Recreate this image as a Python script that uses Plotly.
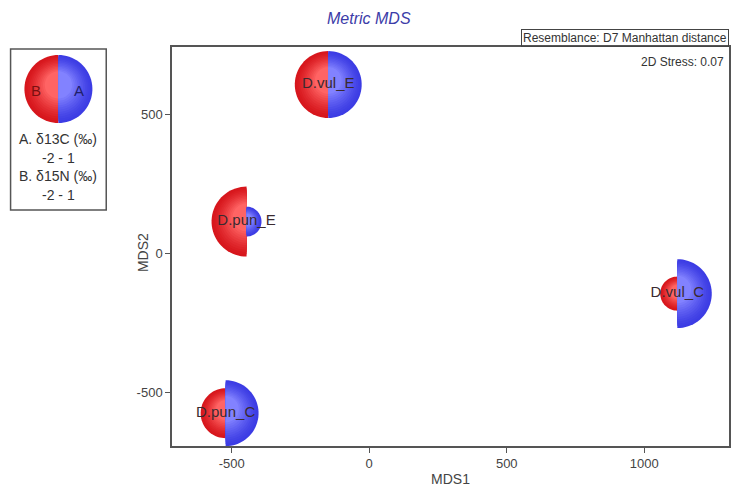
import numpy as np
import plotly.graph_objects as go

# ---- data ----
samples = ["D.vul_E", "D.pun_E", "D.vul_C", "D.pun_C"]
mds1 = [-149, -446, 1120, -522]
mds2 = [606, 113, -146, -576]
d13C = [0.85, -0.94, 0.95, 0.8]   # variable A (right, blue)
d15N = [0.85, 1.0, -0.74, 0.03]   # variable B (left, red)
var_range = [-2, 1]
x_ticks = [-500, 0, 500, 1000]
x_tick_labels = ["-500", "0", "500", "1000"]
y_ticks = [-500, 0, 500]
y_tick_labels = ["-500", "0", "500"]

# ---- layout constants ----
W, H = 733, 495
ML, MR, MT, MB = 172, 2, 47, 49
PW, PH = W - ML - MR, H - MT - MB
R_MIN, R_MAX = 4, 35

FONT = "Liberation Sans, Arial, sans-serif"
RED_EDGE, RED_CENTER = (215, 22, 28), (255, 100, 100)
BLUE_EDGE, BLUE_CENTER = (60, 60, 228), (130, 130, 255)


def radius(v):
    return R_MIN + (v - var_range[0]) / (var_range[1] - var_range[0]) * (R_MAX - R_MIN)


def half_path(r, side, dy=0.0):
    # side -1 = left half, +1 = right half; pixel coordinates relative to anchor
    t = np.linspace(-np.pi / 2, np.pi / 2, 40)
    xs = side * r * np.cos(t)
    ys = r * np.sin(t) + dy
    pts = " L ".join(f"{x:.2f},{y:.2f}" for x, y in zip(xs, ys))
    return f"M {pts} Z"


def mix(c1, c2, f):
    return "rgb(%d,%d,%d)" % tuple(int(a + (b - a) * f) for a, b in zip(c1, c2))


def half_disc_shapes(xa, ya, r, side, edge, center, ref="data"):
    shapes = []
    n = 12
    for k in range(n):
        f = k / (n - 1)
        rr = r * (1 - 0.6 * f)
        dy = r * 0.12 * f
        sh = dict(
            type="path",
            path=half_path(rr, side, dy),
            xsizemode="pixel", ysizemode="pixel",
            xanchor=xa, yanchor=ya,
            fillcolor=mix(edge, center, f ** 1.3),
            line=dict(width=0),
            layer="below",
        )
        if ref == "data":
            sh.update(xref="x", yref="y")
        else:
            sh.update(xref="paper", yref="paper")
        shapes.append(sh)
    return shapes


def px_to_paper(px, py):
    return (px - ML) / PW, (H - MB - py) / PH


shapes = []
for x, y, a, b in zip(mds1, mds2, d13C, d15N):
    shapes += half_disc_shapes(x, y, radius(b), -1, RED_EDGE, RED_CENTER)
    shapes += half_disc_shapes(x, y, radius(a), 1, BLUE_EDGE, BLUE_CENTER)

# legend box & circle
bx0, by0 = px_to_paper(10, 49)
bx1, by1 = px_to_paper(106, 210)
shapes.append(dict(type="rect", xref="paper", yref="paper", x0=bx0, x1=bx1, y0=by1, y1=by0,
                   line=dict(color="#555", width=1.5), fillcolor="rgba(0,0,0,0)"))
lcx, lcy = px_to_paper(58, 89)
shapes += half_disc_shapes(lcx, lcy, radius(var_range[1]) - 1, -1, RED_EDGE, RED_CENTER, ref="paper")
shapes += half_disc_shapes(lcx, lcy, radius(var_range[1]) - 1, 1, BLUE_EDGE, BLUE_CENTER, ref="paper")

fig = go.Figure()
fig.add_trace(go.Scatter(
    x=mds1, y=mds2, text=samples, mode="text",
    textfont=dict(family=FONT, size=15, color="#3a2a30"),
    textposition="middle center", hoverinfo="text", showlegend=False,
))

annotations = []


def ann(px, py, text, size=11, color="#333", xanchor="center", **kw):
    xp, yp = px_to_paper(px, py)
    d = dict(x=xp, y=yp, xref="paper", yref="paper", text=text, showarrow=False,
             xanchor=xanchor, yanchor="middle", font=dict(family=FONT, size=size, color=color))
    d.update(kw)
    annotations.append(d)


ann(36, 90, "B", size=15, color="#7a1010")
ann(79, 90, "A", size=15, color="#20206a")
ann(58, 139, "A. δ13C (‰)", size=14)
ann(58, 158, f"{var_range[0]} - {var_range[1]}", size=14)
ann(58, 176, "B. δ15N (‰)", size=14)
ann(58, 195, f"{var_range[0]} - {var_range[1]}", size=14)
ann(370, 18, "Metric MDS", size=16, color="#3c3ca8")
annotations[-1]["font"]["style"] = "italic"
ann(731, 38, "Resemblance: D7 Manhattan distance", size=12, color="#333",
    xanchor="right", bordercolor="#444", borderwidth=1, borderpad=1)
ann(728, 62, "2D Stress: 0.07", size=12, color="#333", xanchor="right")
ann(143, 253, "MDS2", size=14, color="#444", textangle=-90)

axis_common = dict(
    showgrid=False, zeroline=False, showline=True, mirror=True,
    linecolor="#555", linewidth=1.5, ticks="outside", ticklen=5, tickcolor="#555",
    tickfont=dict(family=FONT, size=13, color="#444"),
)

fig.update_layout(
    width=W, height=H,
    margin=dict(l=ML, r=MR, t=MT, b=MB),
    paper_bgcolor="white", plot_bgcolor="white",
    shapes=shapes, annotations=annotations,
    xaxis=dict(range=[-717, 1308], tickvals=x_ticks, ticktext=x_tick_labels,
               title=dict(text="MDS1", font=dict(family=FONT, size=14, color="#444"), standoff=4),
               **axis_common),
    yaxis=dict(range=[-694, 741], tickvals=y_ticks, ticktext=y_tick_labels,
               **axis_common),
    showlegend=False,
)

fig.write_html("out.html", config={"displayModeBar": False},
               post_script="document.body.style.margin='0';document.body.style.padding='0';")
